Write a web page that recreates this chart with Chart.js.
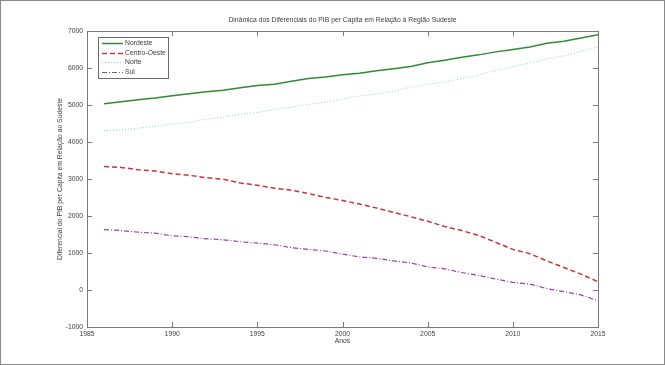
<!DOCTYPE html>
<html>
<head>
<meta charset="utf-8">
<script src="https://cdn.jsdelivr.net/npm/chart.js@4.4.0/dist/chart.umd.min.js"></script>
<style>
  html, body { margin: 0; padding: 0; background: #fff; }
</style>
</head>
<body>
<canvas id="chart" width="665" height="365"></canvas>
<script>
// Anos (eixo x)
const years = [1986, 1987, 1988, 1989, 1990, 1991, 1992, 1993, 1994, 1995,
  1996, 1997, 1998, 1999, 2000, 2001, 2002, 2003, 2004, 2005,
  2006, 2007, 2008, 2009, 2010, 2011, 2012, 2013, 2014, 2015];

// Diferenciais em relação ao Sudeste
const nordeste = [5036, 5089, 5142, 5187, 5249, 5303, 5356, 5401, 5463, 5526,
  5560, 5642, 5713, 5758, 5815, 5855, 5926, 5979, 6042, 6139,
  6211, 6291, 6354, 6435, 6497, 6568, 6667, 6721, 6809, 6898];
const centroOeste = [3339, 3313, 3250, 3214, 3143, 3099, 3036, 2991, 2893, 2830,
  2750, 2697, 2607, 2500, 2420, 2322, 2214, 2098, 1982, 1857,
  1714, 1607, 1473, 1286, 1098, 982, 786, 607, 429, 223];
const norte = [4305, 4321, 4374, 4420, 4481, 4527, 4615, 4668, 4749, 4795,
  4875, 4947, 5017, 5070, 5160, 5241, 5294, 5374, 5481, 5551,
  5623, 5710, 5810, 5935, 6032, 6139, 6246, 6326, 6450, 6568];
const sul = [1634, 1607, 1563, 1536, 1464, 1438, 1384, 1357, 1304, 1268,
  1223, 1143, 1098, 1054, 970, 893, 857, 786, 732, 625,
  572, 473, 393, 295, 205, 161, 36, -45, -134, -286];

// Ticks
const xTicks = [1985, 1990, 1995, 2000, 2005, 2010, 2015];
const yTicks = [-1000, 0, 1000, 2000, 3000, 4000, 5000, 6000, 7000];

const FONT = "'Liberation Sans', Arial, sans-serif";
const FONT_SIZE = 6.8;
const TEXT_COLOR = '#404040';
const AXIS_COLOR = '#7a7a7a';

function toPoints(values) {
  return values.map((v, i) => ({ x: years[i], y: v }));
}

// Caixa dos eixos com ticks para dentro (estilo MATLAB) + moldura externa
const boxPlugin = {
  id: 'boxPlugin',
  afterDatasetsDraw(chart) {
    const { ctx, chartArea: a, scales } = chart;
    ctx.save();
    ctx.strokeStyle = AXIS_COLOR;
    ctx.lineWidth = 1;
    ctx.strokeRect(Math.round(a.left) + 0.5, Math.round(a.top) + 0.5,
      Math.round(a.right - a.left), Math.round(a.bottom - a.top));
    const len = 5;
    ctx.beginPath();
    xTicks.forEach((t) => {
      const x = Math.round(scales.x.getPixelForValue(t)) + 0.5;
      ctx.moveTo(x, a.bottom); ctx.lineTo(x, a.bottom - len);
      ctx.moveTo(x, a.top); ctx.lineTo(x, a.top + len);
    });
    yTicks.forEach((t) => {
      const y = Math.round(scales.y.getPixelForValue(t)) + 0.5;
      ctx.moveTo(a.left, y); ctx.lineTo(a.left + len, y);
      ctx.moveTo(a.right, y); ctx.lineTo(a.right - len, y);
    });
    ctx.stroke();
    ctx.restore();
  },
  afterDraw(chart) {
    const ctx = chart.ctx;
    ctx.save();
    ctx.strokeStyle = '#8a8a8a';
    ctx.lineWidth = 1;
    ctx.strokeRect(0.5, 0.5, chart.width - 1, chart.height - 1);
    ctx.restore();
  }
};

// Legenda dentro do gráfico, canto superior esquerdo
const legendPlugin = {
  id: 'boxLegend',
  afterDraw(chart) {
    const { ctx, chartArea: a } = chart;
    const x0 = a.left + 11, y0 = a.top + 6;
    const w = 70, h = 41, rowH = 9.7;
    ctx.save();
    ctx.fillStyle = '#fff';
    ctx.fillRect(x0, y0, w, h);
    ctx.strokeStyle = '#6a6a6a';
    ctx.lineWidth = 1;
    ctx.strokeRect(Math.round(x0) + 0.5, Math.round(y0) + 0.5, w, h);
    ctx.font = FONT_SIZE + 'px ' + FONT;
    ctx.textBaseline = 'middle';
    chart.data.datasets.forEach((ds, i) => {
      const y = Math.round(y0 + 6 + i * rowH) + 0.5;
      ctx.strokeStyle = ds.borderColor;
      ctx.lineWidth = ds.borderWidth;
      ctx.setLineDash(ds.borderDash || []);
      ctx.beginPath();
      ctx.moveTo(x0 + 4, y);
      ctx.lineTo(x0 + 25, y);
      ctx.stroke();
      ctx.setLineDash([]);
      ctx.fillStyle = TEXT_COLOR;
      ctx.fillText(ds.label, x0 + 27, y);
    });
    ctx.restore();
  }
};

new Chart(document.getElementById('chart'), {
  type: 'line',
  data: {
    datasets: [
      {
        label: 'Nordeste',
        data: toPoints(nordeste),
        borderColor: '#328a32',
        borderWidth: 1.5,
      },
      {
        label: 'Centro-Oeste',
        data: toPoints(centroOeste),
        borderColor: '#c9343c',
        borderWidth: 1.5,
        borderDash: [5, 3],
      },
      {
        label: 'Norte',
        data: toPoints(norte),
        borderColor: '#8ed3c3',
        borderWidth: 1,
        borderDash: [1, 2],
      },
      {
        label: 'Sul',
        data: toPoints(sul),
        borderColor: '#9b3ea8',
        borderWidth: 1.2,
        borderDash: [5, 2, 1, 2],
      },
    ],
  },
  options: {
    responsive: false,
    animation: false,
    layout: { padding: { left: 0, right: 67, top: 0, bottom: 0 } },
    elements: {
      point: { radius: 0 },
      line: { tension: 0, fill: false },
    },
    plugins: {
      legend: { display: false },
      tooltip: { enabled: false },
      title: {
        display: true,
        fullSize: false,
        text: 'Dinâmica dos Diferenciais do PIB per Capita em Relação à Região Sudeste',
        color: TEXT_COLOR,
        font: { family: FONT, size: FONT_SIZE, weight: 'normal', lineHeight: 1.2 },
        padding: { top: 15.9, bottom: 6.9 },
      },
    },
    scales: {
      x: {
        type: 'linear',
        min: 1985,
        max: 2015,
        afterBuildTicks(scale) { scale.ticks = xTicks.map((v) => ({ value: v })); },
        afterFit(scale) { scale.height = 38; },
        border: { display: false },
        grid: { display: false, drawTicks: false },
        ticks: {
          color: TEXT_COLOR,
          padding: 3,
          maxRotation: 0,
          font: { family: FONT, size: FONT_SIZE },
          callback: (v) => String(v),
        },
        title: {
          display: true,
          text: 'Anos',
          color: TEXT_COLOR,
          font: { family: FONT, size: FONT_SIZE, lineHeight: 1.2 },
          padding: { top: 0, bottom: 19.4 },
        },
      },
      y: {
        min: -1000,
        max: 7000,
        afterBuildTicks(scale) { scale.ticks = yTicks.map((v) => ({ value: v })); },
        afterFit(scale) { scale.width = 87; },
        border: { display: false },
        grid: { display: false, drawTicks: false },
        ticks: {
          color: TEXT_COLOR,
          padding: 4,
          font: { family: FONT, size: FONT_SIZE },
          callback: (v) => String(v),
        },
        title: {
          display: true,
          text: 'Diferencial do PIB per Capita em Relação ao Sudeste',
          color: TEXT_COLOR,
          font: { family: FONT, size: FONT_SIZE, lineHeight: 1.2 },
          padding: { top: 56.5, bottom: 0 },
        },
      },
    },
  },
  plugins: [boxPlugin, legendPlugin],
});
</script>
</body>
</html>
